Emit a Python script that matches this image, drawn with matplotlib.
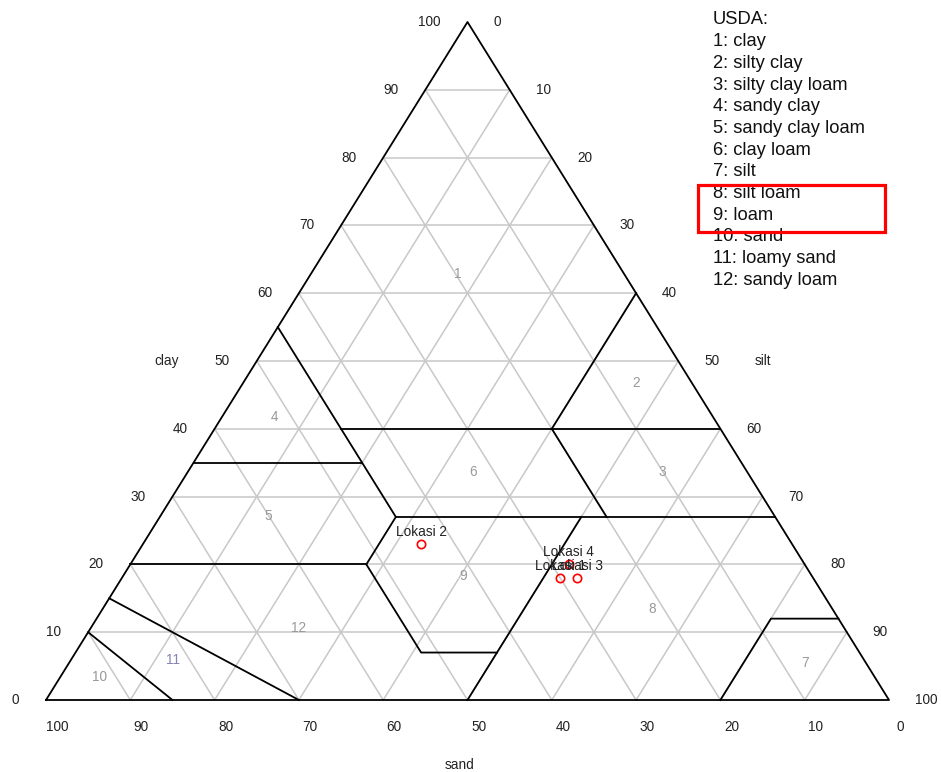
import numpy as np
import matplotlib.pyplot as plt
from matplotlib.patches import Rectangle

plt.rcParams['font.family'] = ['Liberation Sans', 'DejaVu Sans']

# sample points (percent)
lokasi = ['Lokasi 1', 'Lokasi 2', 'Lokasi 3', 'Lokasi 4']
sand = [30, 44, 28, 28]
silt = [52, 33, 54, 52]
clay = [18, 23, 18, 20]

# USDA class boundaries as (sand, silt, clay) polylines
batas = [
    [(45, 15, 40), (0, 60, 40)],
    [(45, 0, 55), (45, 28, 27)],
    [(0, 40, 60), (20, 40, 40)],
    [(20, 40, 40), (20, 53, 27)],
    [(65, 0, 35), (45, 20, 35)],
    [(45, 28, 27), (0, 73, 27)],
    [(45, 28, 27), (52, 28, 20)],
    [(80, 0, 20), (52, 28, 20)],
    [(52, 28, 20), (52, 41, 7), (43, 50, 7)],
    [(50, 50, 0), (23, 50, 27)],
    [(20, 80, 0), (8, 80, 12), (0, 88, 12)],
    [(85, 15, 0), (90, 0, 10)],
    [(70, 30, 0), (85, 0, 15)],
]

# class numbers and where they sit (sand, silt, clay)
kelas = ['1', '2', '3', '4', '5', '6', '7', '8', '9', '10', '11', '12']
pos_kelas = [(19.7, 17.5, 62.8), (6.6, 46.6, 46.8), (10.1, 56.3, 33.6),
             (52.0, 7.0, 41.7), (60.1, 12.8, 27.1), (32.5, 33.9, 33.6),
             (7.2, 87.3, 5.5), (21.4, 65.2, 13.4), (41.4, 40.3, 18.3),
             (91.9, 4.7, 3.4), (82.0, 12.0, 5.9), (64.7, 24.7, 10.6)]

nama_kelas = ['clay', 'silty clay', 'silty clay loam', 'sandy clay',
              'sandy clay loam', 'clay loam', 'silt', 'silt loam', 'loam',
              'sand', 'loamy sand', 'sandy loam']

ticks = list(range(0, 101, 10))


def tern(sa, si, cl):
    x = 1 - sa / 100.0 - cl / 200.0
    y = cl / 100.0
    return x, y


PX = 1 / 843.0
PY = 1 / 678.0

fig = plt.figure(figsize=(9.41, 7.72), dpi=100)
ax = fig.add_axes([0, 0, 1, 1])
ax.axis('off')
ax.set_xlim(-46 * PX, (941 - 46) * PX)
ax.set_ylim(-72 * PY, 700 * PY)

# grid
abu = '#c8c8c8'
for v in range(10, 100, 10):
    for a, b in [((100 - v, 0, v), (0, 100 - v, v)),
                 ((v, 0, 100 - v), (v, 100 - v, 0)),
                 ((0, v, 100 - v), (100 - v, v, 0))]:
        x1, y1 = tern(*a)
        x2, y2 = tern(*b)
        ax.plot([x1, x2], [y1, y2], color=abu, lw=1.1, zorder=1)

# outer triangle
ax.plot([0, 1, 0.5, 0], [0, 0, 1, 0], color='black', lw=1.3, zorder=3)

# class boundaries
for garis in batas:
    xy = [tern(*p) for p in garis]
    ax.plot([p[0] for p in xy], [p[1] for p in xy], color='black', lw=1.3, zorder=3)

# class numbers
for k, p in zip(kelas, pos_kelas):
    x, y = tern(*p)
    warna = '#8383b5' if k == '11' else '#999999'
    ax.text(x, y, k, color=warna, fontsize=9.8, ha='center', va='center', zorder=2)

# tick labels
for v in ticks:
    x, y = tern(100 - v, 0, v)
    ax.text(x - 27 * PX, y, str(v), fontsize=9.8, ha='right', va='center', color='#222222')
    x, y = tern(0, v, 100 - v)
    ax.text(x + 26 * PX, y, str(v), fontsize=9.8, ha='left', va='center', color='#222222')
    x, y = tern(v, 100 - v, 0)
    ax.text(x + 11 * PX, y - 27 * PY, str(v), fontsize=9.8, ha='center', va='center', color='#222222')

ax.text((167 - 46) * PX, (700 - 361) * PY, 'clay', fontsize=9.8, ha='center', va='center', color='#222222')
ax.text((763 - 46) * PX, (700 - 361) * PY, 'silt', fontsize=9.8, ha='center', va='center', color='#222222')
ax.text((460 - 46) * PX, (700 - 765) * PY, 'sand', fontsize=9.8, ha='center', va='center', color='#222222')

# sample points
for nm, sa, si, cl in zip(lokasi, sand, silt, clay):
    x, y = tern(sa, si, cl)
    ax.plot(x, y, 'o', mfc='none', mec='red', ms=6, mew=1.2, zorder=5)
    ax.text(x, y + 12 * PY, nm, fontsize=9.8, ha='center', va='center', color='#222222', zorder=6)

# legend text
baris = ['USDA:'] + ['%d: %s' % (i + 1, n) for i, n in enumerate(nama_kelas)]
for i, t in enumerate(baris):
    ax.text((713 - 46) * PX, (700 - 20 - 21.7 * i) * PY, t, fontsize=13.2,
            ha='left', va='center', color='#111111')

ax.add_patch(Rectangle(((698 - 46) * PX, (700 - 232) * PY), 187 * PX, 47 * PY,
                       fill=False, ec='red', lw=2.3, zorder=7))

fig.savefig('out.png', dpi=100)
